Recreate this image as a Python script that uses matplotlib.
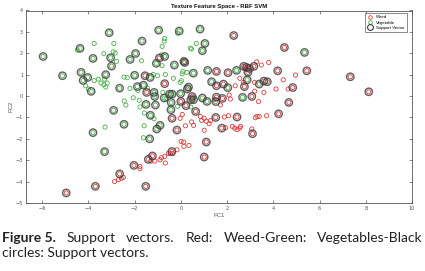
import matplotlib
matplotlib.use("Agg")
import matplotlib.pyplot as plt
from matplotlib.lines import Line2D

# ---- data ----
# Weed points that are not support vectors
weed_x = [-2.87, -2.70, -2.58, -2.49, -1.77, -1.77, -1.30, -1.13, -0.90, -0.84, -0.70, -0.67,
          -0.54, -0.46, -0.35, -0.17, 0.01, 0.12, 0.13, 0.35, -0.03, 0.06, 0.20, 0.46, 0.55,
          0.84, 0.90, 1.01, 1.10, 1.22, 1.28, 1.01, 1.45, 1.71, 1.88, 2.06, 1.94, 2.09, 2.14,
          2.23, 2.33, 2.43, 2.54, 2.58, 2.35, 2.55, 2.72, 2.78, 3.07, 3.19, 3.19, 3.22, 3.30,
          3.39, 3.28, 3.36, 3.48, 3.59, 3.71, 3.80, 4.12, 4.43, 4.64, 4.96]
weed_y = [-4.00, -3.91, -3.85, -3.80, -3.29, -3.40, -3.04, -3.04, -2.98, -2.88, -2.82, -3.13,
          -2.68, -2.69, -2.69, -2.51, -2.12, -2.15, -2.35, -2.31, -1.04, -0.86, -1.39, -1.21, -1.37,
          -0.95, -1.14, -1.04, -1.18, -1.29, -1.15, -1.60, -0.17, -0.42, -0.98, -0.92, -1.48, 0.05, -0.14,
          -1.42, -1.50, -1.57, -1.50, -1.42, 0.48, 0.83, 0.64, 1.29, -1.54, 0.64, 0.23, -1.01, -0.95,
          -0.95, 1.60, -0.26, 1.45, 0.17, -0.92, 1.57, 0.33, 0.76, 0.33, 0.98]
# Weed support vectors
weed_sv_x = [-1.55, -1.48, -0.93, -0.70, -0.38, -0.39, -0.17, 0.00, 0.17, 0.22, 0.28, 0.43,
             0.49, 0.64, 1.01, 1.10, 1.54, 1.51, 1.54, 1.54, 1.77, 1.80, 1.84, 2.04, 2.29, 2.43,
             2.72, 2.75, 2.84, 2.90, 2.97, 3.07, 3.10, 3.16, 3.59, 3.74, 4.19, 4.23, 4.48, 4.67,
             4.84, 5.45, 7.33, 8.13, -4.96, -3.70, -2.65, -2.03, -1.52, -1.41, -1.23]
weed_sv_y = [0.95, 0.17, 1.78, 0.58, -1.04, -2.59, -1.59, -0.25, 1.57, -0.45, 0.33, -0.17,
             -0.02, -0.72, -2.85, -2.15, 1.15, -1.00, 0.48, -0.05, -1.50, -0.11, 0.56, 1.09, 2.83, -0.98,
             1.39, 0.44, 1.34, 1.11, 1.29, -0.02, -1.76, 1.39, 0.70, 0.67, 1.18, -0.83, 2.27, -0.30,
             0.40, 1.18, 0.90, 0.20, -4.53, -4.22, -3.64, -3.24, -4.22, -2.96, -2.80]
# Vegetable points that are not support vectors
veg_x = [-4.48, -3.75, -3.33, -2.90, -2.93, -2.84, -2.78, -4.12, -4.00, -3.75, -3.57, -3.45,
         -3.33, -3.25, -3.19, -3.30, -3.28, -2.46, -2.32, -2.45, -2.38, -2.20, -2.06, -1.86, -1.80,
         -1.77, -1.70, -1.62, -1.59, -1.58, -1.45, -1.19, -1.16, -1.01, -0.84, -0.81, -0.72, -0.70,
         -0.81, -0.78, -0.67, -0.64, -0.32, -0.14, -0.03, 0.03, 0.06, 0.09, 0.26, 0.41, 0.46, 0.67,
         -0.14, 0.43]
veg_y = [2.15, 2.46, 1.98, 2.46, 2.07, 2.01, 1.62, 0.48, 0.33, 0.72, 0.79, 0.61,
         0.53, 0.42, 0.61, 0.79, -1.45, 0.89, 0.86, -0.23, -0.42, 0.36, -0.08, 0.26, -0.20,
         -0.51, 1.65, -1.95, -1.39, -0.79, 0.37, 1.01, -1.06, 0.95, 1.92, 2.32, 2.57, 2.69,
         1.42, 0.17, 1.01, -0.14, 0.83, 2.94, 0.64, 0.72, 1.04, 1.15, 1.11, 2.24, 2.20, 2.46,
         -0.48, -0.51]
# Vegetable support vectors
veg_sv_x = [-5.96, -5.12, -3.10, -4.36, -4.32, -4.23, -4.03, -3.88, -3.80, -3.80, -3.30, -3.25,
            -3.04, -3.00, -2.91, -2.65, -2.46, -2.20, -2.00, -1.96, -1.88, -1.68, -1.62, -1.51,
            -1.33, -1.32, -1.35, -1.16, -1.13, -1.10, -1.06, -1.04, -0.96, -0.90, -0.72, -0.70,
            -0.49, -0.43, -0.38, -0.42, -0.28, -0.07, -0.01, 0.13, 0.33, 0.54, 0.55, 0.83, 0.93,
            0.93, 1.04, 1.16, 1.13, 1.33, 1.51, 2.03, 2.41, 2.67, 2.87, 3.39, 5.35]
veg_sv_y = [1.85, 0.95, 2.96, 2.23, 1.11, 0.73, 0.87, 0.22, 1.76, -1.71, -2.60, 1.00,
            1.79, 1.40, -0.67, 0.37, -1.32, 1.71, 0.97, 1.99, 0.44, 2.57, 0.51, -0.39,
            0.87, -0.90, -2.00, 0.17, -0.02, -0.42, 1.53, -1.54, 3.08, -1.37, -0.09, 1.85,
            0.09, -0.64, 0.09, -0.30, 1.45, 3.04, 0.11, 1.62, 0.42, 1.07, -0.17, 3.13, 2.12,
            -0.09, 2.46, 1.20, -0.25, 0.67, -0.26, 0.39, 1.20, -0.06, 0.76, 0.56, 2.04]

x_ticks = [-6, -4, -2, 0, 2, 4, 6, 8, 10]
y_ticks = [-5, -4, -3, -2, -1, 0, 1, 2, 3, 4]
title = "Texture Feature Space - RBF SVM"
legend_labels = ["Weed", "Vegetable", "Support Vector"]
caption_line1 = ["Figure 5.", "Support", "vectors.", "Red:", "Weed-Green:", "Vegetables-Black"]
caption_line2 = "circles: Support vectors."

WEED = "#e03c3c"
VEG = "#4cb04c"
SV = "#3a3a3a"
AXC = "#555555"

fig = plt.figure(figsize=(4.25, 2.71), dpi=100)
fig.patch.set_facecolor("white")
ax = fig.add_axes([26 / 425, 1 - 203 / 271, (412 - 26) / 425, (203 - 10.5) / 271])

ms = 9
ax.scatter(weed_x + weed_sv_x, weed_y + weed_sv_y, s=ms, facecolors="none",
           edgecolors=WEED, linewidths=0.6, zorder=2)
ax.scatter(veg_x + veg_sv_x, veg_y + veg_sv_y, s=ms, facecolors="none",
           edgecolors=VEG, linewidths=0.6, zorder=2)
ax.scatter(weed_sv_x + veg_sv_x, weed_sv_y + veg_sv_y, s=28, facecolors="none",
           edgecolors=SV, linewidths=1.0, alpha=0.8, zorder=3)

ax.set_xlim(-6.7, 10)
ax.set_ylim(-5, 4)
ax.set_xticks(x_ticks)
ax.set_yticks(y_ticks)
ax.tick_params(direction="in", length=2.5, width=0.5, colors=AXC, labelsize=3.6,
               top=True, right=True, pad=2)
for sp in ax.spines.values():
    sp.set_color(AXC)
    sp.set_linewidth(0.6)
ax.set_xlabel("PC1", fontsize=4.2, color=AXC, labelpad=1.5, family="Liberation Sans")
ax.set_ylabel("PC2", fontsize=4.2, color=AXC, labelpad=1.5, family="Liberation Sans")
ax.set_title(title, fontsize=4.3, fontweight="bold", color="#111111", pad=2,
             family="Liberation Sans")

handles = [
    Line2D([], [], ls="none", marker="o", ms=2.6, mfc="none", mec=WEED, mew=0.6),
    Line2D([], [], ls="none", marker="o", ms=2.6, mfc="none", mec=VEG, mew=0.6),
    Line2D([], [], ls="none", marker="o", ms=4.2, mfc="none", mec=SV, mew=0.8),
]
leg = ax.legend(handles, legend_labels, loc="upper right", bbox_to_anchor=(0.986, 0.985),
                frameon=True, fancybox=False, borderpad=0.45,
                labelspacing=0.25, handletextpad=0.9, handlelength=1.2, borderaxespad=0,
                prop={"family": "Liberation Sans", "size": 3.2})
leg.get_frame().set_edgecolor("#333333")
leg.get_frame().set_linewidth(0.5)

# caption: justified first line
cap_fs = 10.0
cap_font = "Lato"
y1 = 1 - 238 / 271
y2 = 1 - 253 / 271
left_px, right_px = 2.0, 423.0
renderer = fig.canvas.get_renderer()
texts = []
for i, w in enumerate(caption_line1):
    t = fig.text(0, y1, w, fontsize=cap_fs, family=cap_font,
                 fontweight="bold" if i == 0 else "normal",
                 va="center", ha="left", color="#222222")
    texts.append(t)
widths = [t.get_window_extent(renderer).width for t in texts]
gap = (right_px - left_px - sum(widths)) / (len(texts) - 1)
xpos = left_px
for t, w in zip(texts, widths):
    t.set_x(xpos / 425)
    xpos += w + gap
fig.text(left_px / 425, y2, caption_line2, fontsize=cap_fs, family=cap_font,
         va="center", ha="left", color="#222222")

fig.savefig("out.png", dpi=100)
